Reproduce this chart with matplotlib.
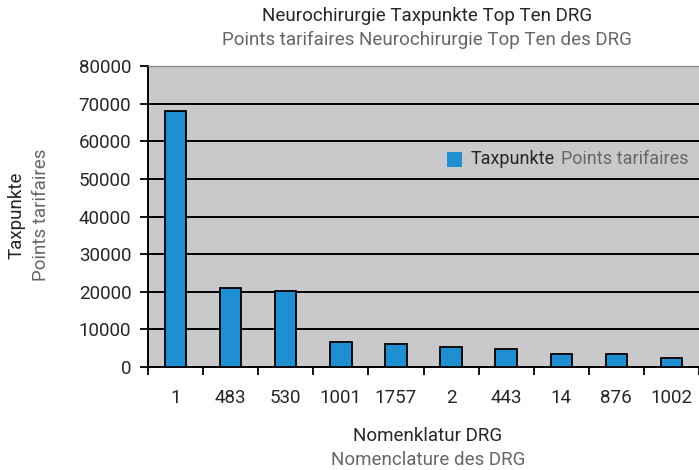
import matplotlib
matplotlib.use("Agg")
import matplotlib.pyplot as plt
from matplotlib.offsetbox import AnchoredOffsetbox, HPacker, TextArea, DrawingArea
from matplotlib.patches import Rectangle
import numpy as np

drg_codes = ["1", "483", "530", "1001", "1757", "2", "443", "14", "876", "1002"]
taxpunkte = [68000, 21100, 20200, 6600, 6000, 5200, 4700, 3400, 3400, 2400]
y_ticks = [0, 10000, 20000, 30000, 40000, 50000, 60000, 70000, 80000]

dark = "#262626"
grey = "#666666"
bar_blue = "#1f8fd1"
bg = "#c9c9cb"
fs = 13.5

plt.rcParams['font.family'] = ['Roboto', 'DejaVu Sans']

fig = plt.figure(figsize=(6.99, 4.70), dpi=100)
ax = fig.add_axes([148 / 699, 1 - 367 / 470, 551 / 699, 301 / 470])
ax.set_facecolor(bg)

x = np.arange(len(drg_codes))
ax.bar(x, taxpunkte, width=0.39, color=bar_blue, edgecolor="black", linewidth=1.3, zorder=3)

ax.set_xlim(-0.5, len(drg_codes) - 0.5)
ax.set_ylim(0, 80000)
ax.set_yticks(y_ticks)
ax.set_yticklabels([str(v) for v in y_ticks], color=dark, fontsize=fs)
ax.set_xticks(x)
ax.set_xticklabels(drg_codes, color=dark, fontsize=fs)
ax.set_xticks(np.arange(len(drg_codes) + 1) - 0.5, minor=True)
ax.tick_params(axis='x', which='major', length=0, pad=16)
ax.tick_params(axis='x', which='minor', length=6, width=1.3, direction='out', color='black')
ax.tick_params(axis='y', length=6, width=1.3, direction='out', color='black', pad=6)

ax.yaxis.grid(True, color='black', linewidth=1.4, zorder=1)
ax.set_axisbelow(True)
ax.spines['top'].set_color('#8a8a8a')
ax.spines['top'].set_linewidth(1.0)
ax.spines['right'].set_visible(False)
ax.spines['left'].set_linewidth(1.4)
ax.spines['bottom'].set_linewidth(1.4)

# titles, two languages in two shades
fig.text(427 / 699, 1 - 16 / 470, "Neurochirurgie Taxpunkte Top Ten DRG", ha='center', va='center',
         color=dark, fontsize=fs)
fig.text(427 / 699, 1 - 40 / 470, "Points tarifaires Neurochirurgie Top Ten des DRG", ha='center', va='center',
         color=grey, fontsize=fs)

fig.text(428 / 699, 1 - 436 / 470, "Nomenklatur DRG", ha='center', va='center', color=dark, fontsize=fs)
fig.text(428 / 699, 1 - 460 / 470, "Nomenclature des DRG", ha='center', va='center', color=grey, fontsize=fs)

fig.text(17 / 699, 1 - 215 / 470, "Taxpunkte", ha='center', va='center', rotation=90, color=dark, fontsize=fs)
fig.text(41 / 699, 1 - 215 / 470, "Points tarifaires", ha='center', va='center', rotation=90, color=grey, fontsize=fs)

# legend
da = DrawingArea(12, 12, 0, 0)
da.add_artist(Rectangle((0, 0), 11, 11, facecolor=bar_blue, edgecolor='none'))
box = HPacker(children=[da,
                        TextArea("Taxpunkte", textprops=dict(color=dark, fontsize=13)),
                        TextArea("Points tarifaires", textprops=dict(color=grey, fontsize=13))],
              align="center", pad=0, sep=5)
leg = AnchoredOffsetbox(loc='center left', child=box, frameon=False,
                        bbox_to_anchor=(441 / 699, 1 - 159 / 470), bbox_transform=fig.transFigure, borderpad=0)
ax.add_artist(leg)

fig.savefig("out.png", dpi=100)
